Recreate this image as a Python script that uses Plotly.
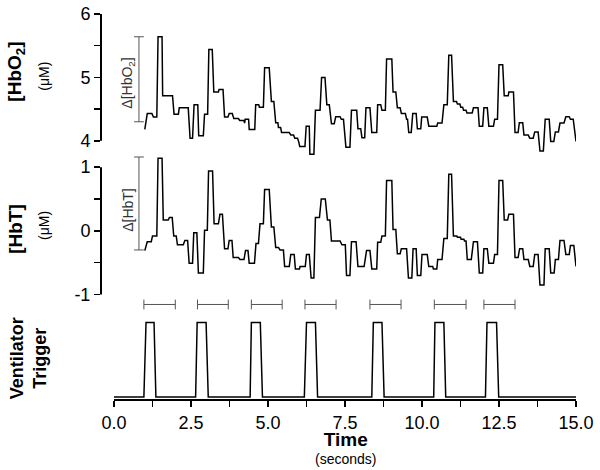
import plotly.graph_objects as go

# ---------------- data ----------------
hbo2_t = [1.00, 1.08, 1.23, 1.28, 1.39, 1.43, 1.56, 1.58, 1.90, 1.95, 2.09, 2.12, 2.41, 2.47, 2.55, 2.60, 2.72, 2.75, 2.90, 2.94,
          3.04, 3.08, 3.19, 3.24, 3.39, 3.41, 3.54, 3.59, 3.70, 3.74, 3.84, 3.89, 4.04, 4.08, 4.22, 4.24, 4.26, 4.37, 4.39, 4.57,
          4.60, 4.70, 4.72, 4.85, 4.89, 5.04, 5.11, 5.19, 5.25, 5.32, 5.34, 5.41, 5.44, 5.69, 5.74, 5.83, 5.87, 5.96, 6.00, 6.03,
          6.20, 6.24, 6.34, 6.36, 6.49, 6.54, 6.69, 6.74, 6.85, 6.91, 6.99, 7.06, 7.15, 7.20, 7.34, 7.38, 7.45, 7.53, 7.66, 7.71,
          7.88, 7.92, 8.01, 8.05, 8.14, 8.18, 8.31, 8.37, 8.53, 8.56, 8.66, 8.70, 8.81, 8.85, 9.02, 9.06, 9.15, 9.20, 9.29, 9.33,
          9.46, 9.50, 9.53, 9.57, 9.65, 9.70, 9.81, 9.85, 9.96, 9.99, 10.17, 10.22, 10.48, 10.51, 10.65, 10.71, 10.82, 10.87, 10.96, 11.02,
          11.12, 11.15, 11.23, 11.26, 11.32, 11.35, 11.43, 11.46, 11.63, 11.67, 11.82, 11.86, 11.97, 12.01, 12.12, 12.17, 12.32, 12.36, 12.45, 12.50,
          12.62, 12.67, 12.80, 12.82, 12.97, 13.02, 13.12, 13.16, 13.27, 13.31, 13.45, 13.50, 13.61, 13.66, 13.77, 13.83, 13.94, 14.00, 14.13, 14.18,
          14.28, 14.33, 14.43, 14.48, 14.61, 14.67, 14.78, 14.82, 14.91, 15.00]
hbo2_v = [4.18, 4.43, 4.43, 4.375, 4.375, 5.64, 5.64, 4.71, 4.71, 4.42, 4.42, 4.52, 4.52, 4.04, 4.04, 4.57, 4.57, 4.08, 4.08, 4.42,
          4.42, 5.44, 5.44, 4.77, 4.77, 4.81, 4.81, 4.375, 4.375, 4.43, 4.43, 4.35, 4.35, 4.32, 4.32, 4.28, 4.34, 4.34, 4.18, 4.18,
          4.57, 4.57, 4.53, 4.53, 5.15, 5.15, 4.62, 4.62, 4.285, 4.285, 4.21, 4.21, 4.13, 4.13, 4.09, 4.09, 4.04, 4.04, 3.98, 3.91,
          3.91, 4.23, 4.23, 3.79, 3.79, 4.48, 4.48, 5.00, 5.00, 4.57, 4.57, 4.27, 4.27, 4.38, 4.38, 4.34, 4.34, 3.90, 3.90, 4.48,
          4.48, 4.19, 4.19, 4.05, 4.05, 4.52, 4.52, 4.13, 4.13, 4.57, 4.57, 4.48, 4.48, 5.29, 5.29, 4.77, 4.77, 4.52, 4.52, 4.43,
          4.43, 4.34, 4.34, 4.13, 4.13, 4.43, 4.43, 4.19, 4.19, 4.375, 4.375, 4.23, 4.23, 4.28, 4.28, 4.57, 4.57, 5.35, 5.35, 4.62,
          4.62, 4.58, 4.58, 4.53, 4.53, 4.48, 4.48, 4.44, 4.44, 4.52, 4.52, 4.23, 4.23, 4.52, 4.52, 4.23, 4.23, 4.34, 4.34, 5.20,
          5.20, 4.71, 4.71, 4.77, 4.77, 4.13, 4.13, 4.285, 4.285, 4.09, 4.09, 4.04, 4.04, 4.14, 4.14, 3.84, 3.84, 4.34, 4.34, 3.99,
          3.99, 4.14, 4.14, 4.28, 4.28, 4.38, 4.38, 4.34, 4.34, 3.99]

hbt_t = [1.00, 1.08, 1.21, 1.25, 1.39, 1.43, 1.56, 1.60, 1.76, 1.80, 1.89, 1.94, 2.02, 2.06, 2.25, 2.30, 2.39, 2.44, 2.55, 2.59,
         2.69, 2.74, 2.90, 2.94, 3.03, 3.07, 3.20, 3.25, 3.39, 3.44, 3.52, 3.59, 3.70, 3.74, 3.83, 3.87, 4.04, 4.09, 4.22, 4.27,
         4.35, 4.39, 4.56, 4.61, 4.69, 4.74, 4.85, 4.89, 5.04, 5.11, 5.19, 5.25, 5.34, 5.39, 5.50, 5.54, 5.69, 5.74, 5.85, 5.89,
         6.02, 6.04, 6.21, 6.25, 6.34, 6.40, 6.49, 6.54, 6.67, 6.73, 6.86, 6.93, 7.01, 7.06, 7.34, 7.40, 7.51, 7.55, 7.66, 7.71,
         7.86, 7.92, 8.12, 8.20, 8.31, 8.37, 8.53, 8.56, 8.66, 8.70, 8.81, 8.85, 9.02, 9.06, 9.15, 9.20, 9.29, 9.33, 9.50, 9.56,
         9.67, 9.71, 9.81, 9.85, 9.96, 10.00, 10.17, 10.22, 10.35, 10.37, 10.48, 10.51, 10.65, 10.71, 10.82, 10.87, 10.96, 11.02, 11.13, 11.15,
         11.25, 11.27, 11.36, 11.38, 11.43, 11.47, 11.60, 11.67, 11.80, 11.86, 11.97, 12.01, 12.12, 12.17, 12.32, 12.36, 12.45, 12.50, 12.62, 12.67,
         12.78, 12.82, 12.97, 13.02, 13.12, 13.17, 13.27, 13.31, 13.45, 13.50, 13.61, 13.66, 13.77, 13.83, 13.96, 14.00, 14.13, 14.18, 14.29, 14.33,
         14.43, 14.48, 14.61, 14.67, 14.78, 14.82, 14.93, 15.00]
hbt_v = [-0.31, -0.17, -0.17, -0.08, -0.08, 1.14, 1.14, 0.17, 0.17, 0.21, 0.21, -0.08, -0.08, -0.22, -0.22, -0.15, -0.15, -0.51, -0.51, -0.03,
         -0.03, -0.66, -0.66, 0.01, 0.01, 0.94, 0.94, 0.11, 0.11, 0.26, 0.26, -0.28, -0.28, -0.15, -0.15, -0.42, -0.42, -0.45, -0.45, -0.31,
         -0.31, -0.51, -0.51, -0.20, -0.20, 0.11, 0.11, 0.65, 0.65, 0.06, 0.06, -0.26, -0.26, -0.30, -0.30, -0.56, -0.56, -0.37, -0.37, -0.60,
         -0.60, -0.56, -0.56, -0.37, -0.37, -0.74, -0.74, 0.21, 0.21, 0.50, 0.50, 0.17, 0.17, -0.16, -0.16, -0.22, -0.22, -0.70, -0.70, -0.17,
         -0.17, -0.56, -0.56, -0.31, -0.31, -0.60, -0.60, -0.18, -0.18, -0.08, -0.08, 0.79, 0.79, 0.02, 0.02, -0.36, -0.36, -0.28, -0.28, -0.74,
         -0.74, -0.28, -0.28, -0.70, -0.70, -0.37, -0.37, -0.56, -0.56, -0.60, -0.60, -0.45, -0.45, -0.12, -0.12, 0.89, 0.89, -0.08, -0.08, -0.10,
         -0.10, -0.13, -0.13, -0.16, -0.16, -0.45, -0.45, -0.17, -0.17, -0.66, -0.66, -0.28, -0.28, -0.51, -0.51, -0.37, -0.37, 0.79, 0.79, 0.17,
         0.17, 0.26, 0.26, -0.42, -0.42, -0.28, -0.28, -0.45, -0.45, -0.56, -0.56, -0.37, -0.37, -0.85, -0.85, -0.28, -0.28, -0.66, -0.66, -0.45,
         -0.45, -0.15, -0.15, -0.37, -0.37, -0.23, -0.23, -0.56]

trig_t = [0.00, 0.97, 1.04, 1.30, 1.36, 2.65, 2.70, 2.99, 3.06, 4.42, 4.46, 4.75, 4.82, 6.18, 6.25, 6.54, 6.61,
          8.37, 8.42, 8.70, 8.77, 10.38, 10.42, 10.71, 10.77, 12.06, 12.11, 12.42, 12.49, 15.00]
trig_v = [0, 0, 1, 1, 0, 0, 1, 1, 0, 0, 1, 1, 0, 0, 1, 1, 0,
          0, 1, 1, 0, 0, 1, 1, 0, 0, 1, 1, 0, 0]

bracket_start = [0.97, 2.71, 4.46, 6.20, 8.31, 10.40, 12.01]
bracket_end = [1.99, 3.71, 5.46, 7.21, 9.32, 11.43, 13.02]
bracket_level = 1.24

delta_x = 0.81
delta_hbo2 = [4.30, 5.64]
delta_hbt = [-0.30, 1.16]

x_tick_vals = [0, 2.5, 5, 7.5, 10, 12.5, 15]
x_tick_text = ["0.0", "2.5", "5.0", "7.5", "10.0", "12.5", "15.0"]
hbo2_ticks = [4, 5, 6]
hbo2_tick_text = ["4", "5", "6"]
hbt_ticks = [-1, 0, 1]
hbt_tick_text = ["-1", "0", "1"]

# ---------------- layout geometry (pixels) ----------------
W, H = 600, 470
ML, MR, MT, MB = 101, 24, 2, 70
PW, PH = W - ML - MR, H - MT - MB
PBOT = H - MB
X0PIX, XSCALE = 114, 462 / 15.0


def ydom(p_top, p_bot):
    return [(PBOT - p_bot) / PH, (PBOT - p_top) / PH]


def vrange(p_top, p_bot, v_a, p_a, v_b, p_b):
    s = (v_b - v_a) / (p_b - p_a)
    return [v_a + (p_bot - p_a) * s, v_a + (p_top - p_a) * s]


def xp(p):
    return (p - ML) / PW


def yp(p):
    return (PBOT - p) / PH


FONT = "Liberation Sans, Arial, Helvetica, sans-serif"
LINEC = "black"
GRAY = "#555555"

fig = go.Figure()
fig.add_trace(go.Scatter(x=hbo2_t, y=hbo2_v, mode="lines", line=dict(color=LINEC, width=1.5),
                         xaxis="x", yaxis="y", showlegend=False))
fig.add_trace(go.Scatter(x=hbt_t, y=hbt_v, mode="lines", line=dict(color=LINEC, width=1.5),
                         xaxis="x", yaxis="y2", showlegend=False))
fig.add_trace(go.Scatter(x=trig_t, y=trig_v, mode="lines", line=dict(color=LINEC, width=1.5),
                         xaxis="x", yaxis="y3", showlegend=False))

# brackets above trigger pulses
bx, by, mx, my = [], [], [], []
for s, e in zip(bracket_start, bracket_end):
    bx += [s, e, None]
    by += [bracket_level, bracket_level, None]
    mx += [s, e]
    my += [bracket_level, bracket_level]
fig.add_trace(go.Scatter(x=bx, y=by, mode="lines", line=dict(color=GRAY, width=1),
                         xaxis="x", yaxis="y3", showlegend=False))
fig.add_trace(go.Scatter(x=mx, y=my, mode="markers", marker=dict(symbol="line-ns", size=7,
                         line=dict(color=GRAY, width=1)), xaxis="x", yaxis="y3", showlegend=False, cliponaxis=False))

# delta bars
for yax, dv in (("y", delta_hbo2), ("y2", delta_hbt)):
    fig.add_trace(go.Scatter(x=[delta_x, delta_x], y=dv, mode="lines+markers",
                             line=dict(color=GRAY, width=1),
                             marker=dict(symbol="line-ew", size=7, line=dict(color=GRAY, width=1)),
                             xaxis="x", yaxis=yax, showlegend=False, cliponaxis=False))

tickfont = dict(family=FONT, size=18, color="black")
minor_y = dict(dtick=0.5, tick0=0, ticks="outside", ticklen=6, tickwidth=1.5, tickcolor="black")
yax_common = dict(showgrid=False, zeroline=False, showline=False, ticks="outside", ticklen=6,
                  tickwidth=1.5, tickcolor="black", tickfont=tickfont, anchor="x", fixedrange=True)

fig.update_layout(
    width=W, height=H,
    margin=dict(l=ML, r=MR, t=MT, b=MB),
    paper_bgcolor="white", plot_bgcolor="rgba(0,0,0,0)",
    hovermode=False,
    xaxis=dict(range=[-(X0PIX - ML) / XSCALE, 15], domain=[0, 1], anchor="y3",
               showgrid=False, zeroline=False, showline=False, fixedrange=True,
               tickvals=x_tick_vals, ticktext=x_tick_text, ticks="outside", ticklen=6,
               tickwidth=1.5, tickcolor="black", tickfont=tickfont,
               minor=dict(dtick=1.25, tick0=0, ticks="outside", ticklen=6, tickwidth=1.5, tickcolor="black")),
    yaxis=dict(domain=ydom(4, 160), range=vrange(4, 160, 6, 12, 4, 139.5),
               tickvals=hbo2_ticks, ticktext=hbo2_tick_text, minor=minor_y, **yax_common),
    yaxis2=dict(domain=ydom(150, 300), range=vrange(150, 300, 1, 166, -1, 294),
                tickvals=hbt_ticks, ticktext=hbt_tick_text, minor=minor_y, **yax_common),
    yaxis3=dict(domain=ydom(290, 400), range=vrange(290, 400, 0, 397, 1, 322),
                showgrid=False, zeroline=False, showline=False, showticklabels=False, ticks="",
                anchor="x", fixedrange=True),
)

# axis spines
shapes = [
    dict(type="line", xref="paper", yref="y", x0=0, x1=0, y0=hbo2_ticks[0], y1=hbo2_ticks[-1],
         line=dict(color="black", width=2)),
    dict(type="line", xref="paper", yref="y2", x0=0, x1=0, y0=hbt_ticks[0], y1=hbt_ticks[-1],
         line=dict(color="black", width=2)),
    dict(type="line", xref="x", yref="y3 domain", x0=x_tick_vals[0], x1=x_tick_vals[-1], y0=0, y1=0,
         line=dict(color="black", width=2)),
]
fig.update_layout(shapes=shapes)

ann = []
# delta labels
ann.append(dict(text="Δ[HbO<sub>2</sub>]", xref="x", yref="y", x=(128 - X0PIX) / XSCALE,
                y=sum(delta_hbo2) / 2 - 0.07, textangle=-90, showarrow=False,
                font=dict(family=FONT, size=14, color="#333333"), xanchor="center", yanchor="middle"))
ann.append(dict(text="Δ[HbT]", xref="x", yref="y2", x=(128 - X0PIX) / XSCALE,
                y=sum(delta_hbt) / 2 - 0.1, textangle=-90, showarrow=False,
                font=dict(family=FONT, size=14, color="#333333"), xanchor="center", yanchor="middle"))
# panel titles
ann.append(dict(text="<b>[HbO<sub>2</sub>]</b>", xref="paper", yref="paper", x=xp(16), y=yp(70),
                textangle=-90, showarrow=False, font=dict(family=FONT, size=19, color="black"),
                xanchor="center", yanchor="middle"))
ann.append(dict(text="(μM)", xref="paper", yref="paper", x=xp(44), y=yp(75),
                textangle=-90, showarrow=False, font=dict(family=FONT, size=14, color="black"),
                xanchor="center", yanchor="middle"))
ann.append(dict(text="<b>[HbT]</b>", xref="paper", yref="paper", x=xp(16), y=yp(228),
                textangle=-90, showarrow=False, font=dict(family=FONT, size=19, color="black"),
                xanchor="center", yanchor="middle"))
ann.append(dict(text="(μM)", xref="paper", yref="paper", x=xp(44), y=yp(225),
                textangle=-90, showarrow=False, font=dict(family=FONT, size=14, color="black"),
                xanchor="center", yanchor="middle"))
ann.append(dict(text="<b>Ventilator<br>Trigger</b>", xref="paper", yref="paper", x=xp(28), y=yp(358),
                textangle=-90, showarrow=False, font=dict(family=FONT, size=18, color="black"),
                xanchor="center", yanchor="middle"))
ann.append(dict(text="<span style='font-size:19px'><b>Time</b></span><br>(seconds)",
                xref="paper", yref="paper", x=xp(345), y=yp(448),
                showarrow=False, font=dict(family=FONT, size=14, color="black"),
                xanchor="center", yanchor="middle"))
fig.update_layout(annotations=ann)

fig.write_html("out.html", config={"displayModeBar": False, "staticPlot": True},
               post_script="document.body.style.margin='0px';document.body.style.overflow='hidden';")
